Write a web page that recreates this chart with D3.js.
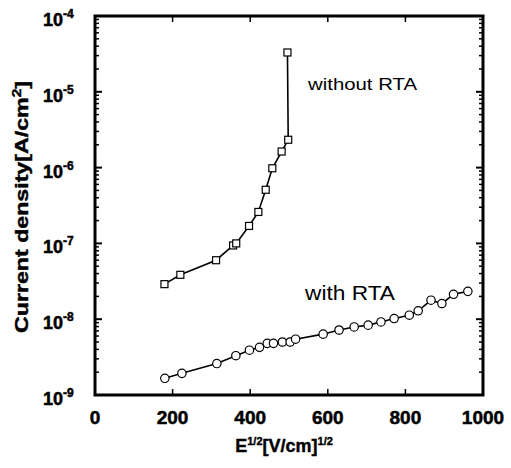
<!DOCTYPE html>
<html>
<head>
    <title>Current density</title>
    <style type="text/css">
        body { margin: 0; background: #fff; }
        svg text { font-family: "Liberation Sans", Arial, sans-serif; fill: #000; }
        .tick-label { font-weight: bold; stroke: #000; stroke-width: 0.5px; }
        .axis-title { font-weight: bold; stroke: #000; stroke-width: 0.4px; }
    </style>
</head>
<body>
    <script src="https://d3js.org/d3.v7.min.js" type="text/javascript"></script>
    <script type="text/javascript">

        // without RTA (squares)
        var noRtaX = [179, 220, 312, 356, 364, 397, 421, 440, 457, 481, 498, 496];
        var noRtaY = [2.9e-8, 3.85e-8, 6.0e-8, 9.4e-8, 1.0e-7, 1.7e-7, 2.6e-7, 5.1e-7, 9.8e-7, 1.63e-6, 2.33e-6, 3.3e-5];

        // with RTA (circles)
        var rtaX = [180, 224, 314, 363, 398, 424, 444, 460, 483, 503, 517, 588, 629, 668, 704, 737, 771, 810, 833, 866, 894, 924, 961];
        var rtaY = [1.66e-9, 1.93e-9, 2.6e-9, 3.3e-9, 3.9e-9, 4.25e-9, 4.8e-9, 4.8e-9, 5.0e-9, 5.0e-9, 5.45e-9, 6.35e-9,
            7.2e-9, 7.9e-9, 8.35e-9, 9.2e-9, 1.02e-8, 1.13e-8, 1.29e-8, 1.78e-8, 1.61e-8, 2.13e-8, 2.33e-8];

        var xTicks = [0, 200, 400, 600, 800, 1000];
        var yExps = [-4, -5, -6, -7, -8, -9];

        var W = 511, H = 468;
        var pLeft = 95, pRight = 483, pTop = 16, pBottom = 395;

        var svg = d3.select('body').append('svg')
            .attr('width', W)
            .attr('height', H);

        var x = d3.scaleLinear().domain([0, 1000]).range([pLeft, pRight]);
        var y = d3.scaleLog().domain([1e-9, 1e-4]).range([pBottom, pTop]);

        // minor + major ticks on the y axis, both sides, pointing inward
        var yMinor = [];
        for (var e = -9; e < -4; e++) {
            for (var m = 2; m <= 9; m++) yMinor.push(m * Math.pow(10, e));
        }
        var g = svg.append('g').attr('stroke', '#000');
        yMinor.forEach(function (v) {
            g.append('line').attr('x1', pLeft).attr('x2', pLeft + 4).attr('y1', y(v)).attr('y2', y(v)).attr('stroke-width', 1.5);
            g.append('line').attr('x1', pRight).attr('x2', pRight - 4).attr('y1', y(v)).attr('y2', y(v)).attr('stroke-width', 1.5);
        });
        yExps.forEach(function (ex) {
            var v = Math.pow(10, ex);
            g.append('line').attr('x1', pLeft).attr('x2', pLeft + 7).attr('y1', y(v)).attr('y2', y(v)).attr('stroke-width', 2);
            g.append('line').attr('x1', pRight).attr('x2', pRight - 7).attr('y1', y(v)).attr('y2', y(v)).attr('stroke-width', 2);
        });
        xTicks.forEach(function (v) {
            g.append('line').attr('x1', x(v)).attr('x2', x(v)).attr('y1', pBottom).attr('y2', pBottom - 6).attr('stroke-width', 1.5);
            g.append('line').attr('x1', x(v)).attr('x2', x(v)).attr('y1', pTop).attr('y2', pTop + 6).attr('stroke-width', 1.5);
        });

        // frame
        svg.append('rect')
            .attr('x', pLeft).attr('y', pTop)
            .attr('width', pRight - pLeft).attr('height', pBottom - pTop)
            .attr('fill', 'none').attr('stroke', '#000').attr('stroke-width', 3);

        // x tick labels
        svg.selectAll('.xl').data(xTicks).enter().append('text')
            .attr('class', 'tick-label')
            .attr('x', function (d) { return x(d); })
            .attr('y', 424)
            .attr('text-anchor', 'middle')
            .style('font-size', '19px')
            .text(function (d) { return d; });

        // y tick labels 10^n
        var yl = svg.selectAll('.yl').data(yExps).enter().append('text')
            .attr('class', 'tick-label')
            .attr('x', 43)
            .attr('y', function (d) { return y(Math.pow(10, d)) + 10; })
            .style('font-size', '18px');
        yl.append('tspan').text('10');
        yl.append('tspan').attr('dy', -8).style('font-size', '12px').text(function (d) { return '-' + (-d); });

        // axis titles
        var xt = svg.append('text')
            .attr('class', 'axis-title')
            .attr('x', 284).attr('y', 452)
            .attr('text-anchor', 'middle')
            .style('font-size', '18px');
        xt.append('tspan').text('E');
        xt.append('tspan').attr('dy', -7).style('font-size', '11px').text('1/2');
        xt.append('tspan').attr('dy', 7).text('[V/cm]');
        xt.append('tspan').attr('dy', -7).style('font-size', '11px').text('1/2');

        var yt = svg.append('text')
            .attr('class', 'axis-title')
            .attr('transform', 'translate(28,207) rotate(-90)')
            .attr('text-anchor', 'middle')
            .style('font-size', '18px')
            .attr('textLength', 252).attr('lengthAdjust', 'spacingAndGlyphs');
        yt.append('tspan').text('Current density[A/cm');
        yt.append('tspan').attr('dy', -7).style('font-size', '12px').text('2');
        yt.append('tspan').attr('dy', 7).text(']');

        // series
        var line = d3.line()
            .x(function (d) { return x(d[0]); })
            .y(function (d) { return y(d[1]); });

        var sq = d3.zip(noRtaX, noRtaY);
        var ci = d3.zip(rtaX, rtaY);

        svg.append('path').datum(sq).attr('d', line)
            .attr('fill', 'none').attr('stroke', '#000').attr('stroke-width', 1.6);
        svg.append('path').datum(ci).attr('d', line)
            .attr('fill', 'none').attr('stroke', '#000').attr('stroke-width', 1.6);

        svg.selectAll('.sq').data(sq).enter().append('rect')
            .attr('x', function (d) { return x(d[0]) - 3.5; })
            .attr('y', function (d) { return y(d[1]) - 3.5; })
            .attr('width', 7).attr('height', 7)
            .attr('fill', '#fff').attr('stroke', '#000').attr('stroke-width', 1.2);

        svg.selectAll('.ci').data(ci).enter().append('circle')
            .attr('cx', function (d) { return x(d[0]); })
            .attr('cy', function (d) { return y(d[1]); })
            .attr('r', 4.2)
            .attr('fill', '#fff').attr('stroke', '#000').attr('stroke-width', 1.2);

        // annotations
        svg.append('text').attr('x', 308).attr('y', 90)
            .style('font-size', '17px').attr('textLength', 109).attr('lengthAdjust', 'spacingAndGlyphs')
            .text('without RTA');
        svg.append('text').attr('x', 305).attr('y', 300)
            .style('font-size', '20px').attr('textLength', 90).attr('lengthAdjust', 'spacingAndGlyphs')
            .text('with RTA');
    </script>
</body>
</html>
